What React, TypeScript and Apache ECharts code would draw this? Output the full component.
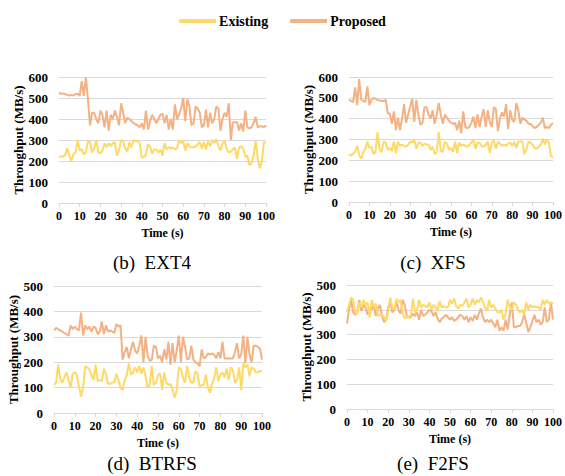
import React, { useEffect, useRef } from "react";
import * as echarts from "echarts";

const timeTicks = [0, 10, 20, 30, 40, 50, 60, 70, 80, 90, 100];

const ext4Existing = [220, 222, 222, 228, 262, 225, 200, 235, 240, 300, 250, 255, 232, 240, 295, 290, 240, 260, 300, 240, 238, 250, 285, 265, 285, 270, 285, 290, 225, 250, 300, 295, 260, 245, 290, 265, 300, 295, 295, 285, 215, 220, 230, 280, 270, 235, 255, 255, 240, 255, 225, 285, 255, 265, 260, 265, 255, 260, 300, 285, 295, 250, 285, 270, 265, 265, 270, 280, 290, 260, 290, 255, 295, 270, 300, 285, 305, 270, 250, 285, 295, 260, 240, 245, 255, 265, 210, 265, 270, 260, 220, 225, 180, 190, 225, 295, 215, 165, 200, 290, 285];
const ext4Proposed = [525, 520, 522, 518, 515, 512, 515, 512, 518, 520, 510, 580, 510, 600, 490, 370, 430, 430, 400, 380, 440, 420, 360, 440, 345, 420, 400, 440, 410, 370, 475, 430, 380, 405, 400, 390, 380, 375, 370, 360, 380, 350, 440, 350, 390, 420, 400, 380, 400, 420, 425, 380, 420, 350, 400, 350, 470, 400, 420, 450, 500, 390, 495, 460, 370, 380, 460, 450, 430, 360, 370, 445, 360, 430, 380, 400, 460, 450, 345, 400, 430, 410, 475, 300, 385, 385, 385, 345, 380, 340, 440, 360, 355, 360, 380, 410, 360, 365, 365, 360, 370];

const xfsExisting = [230, 222, 232, 240, 270, 225, 208, 240, 255, 290, 260, 265, 230, 240, 335, 250, 240, 290, 285, 250, 260, 245, 290, 235, 290, 270, 275, 270, 265, 275, 290, 285, 300, 255, 285, 285, 270, 280, 275, 275, 250, 265, 230, 240, 335, 245, 240, 290, 280, 250, 260, 240, 290, 235, 285, 270, 275, 270, 265, 275, 285, 300, 255, 285, 285, 270, 265, 275, 290, 235, 285, 295, 255, 290, 280, 270, 275, 270, 280, 285, 270, 290, 260, 290, 290, 290, 230, 255, 290, 285, 275, 260, 255, 265, 275, 305, 275, 300, 285, 220, 215];
const xfsProposed = [490, 485, 480, 550, 465, 590, 490, 485, 480, 555, 465, 490, 500, 495, 490, 488, 485, 485, 490, 425, 425, 375, 435, 345, 405, 345, 400, 470, 380, 420, 460, 495, 385, 490, 420, 370, 380, 455, 455, 420, 400, 440, 375, 420, 475, 420, 375, 420, 405, 390, 380, 375, 380, 345, 390, 330, 435, 360, 355, 360, 380, 410, 355, 420, 360, 410, 445, 360, 440, 385, 360, 455, 445, 340, 400, 430, 410, 470, 350, 440, 395, 385, 475, 440, 375, 405, 395, 390, 375, 375, 365, 355, 360, 370, 380, 405, 355, 360, 355, 370, 380];

const btrfsExisting = [110, 120, 190, 135, 120, 140, 160, 130, 100, 155, 160, 150, 105, 65, 100, 185, 180, 170, 150, 130, 190, 125, 130, 125, 175, 150, 115, 115, 120, 120, 155, 130, 100, 90, 130, 150, 195, 150, 160, 180, 160, 185, 155, 180, 145, 100, 110, 185, 110, 120, 150, 155, 90, 160, 120, 110, 115, 90, 60, 90, 180, 175, 140, 120, 185, 140, 120, 120, 165, 155, 105, 110, 110, 150, 100, 80, 115, 135, 180, 125, 150, 160, 140, 175, 130, 180, 170, 120, 130, 180, 90, 195, 180, 190, 145, 180, 175, 160, 160, 165, 165];
const btrfsProposed = [325, 335, 330, 325, 320, 315, 310, 305, 345, 330, 340, 330, 325, 395, 305, 345, 330, 340, 320, 340, 335, 310, 320, 360, 310, 345, 320, 325, 320, 315, 350, 340, 345, 210, 240, 260, 215, 250, 280, 245, 235, 265, 305, 200, 300, 225, 205, 210, 265, 260, 215, 225, 200, 250, 210, 280, 190, 275, 200, 245, 305, 200, 300, 260, 210, 215, 265, 210, 200, 195, 185, 250, 215, 220, 235, 230, 235, 230, 215, 240, 215, 280, 215, 215, 215, 215, 215, 240, 275, 215, 230, 305, 195, 300, 230, 200, 265, 265, 260, 255, 210];

const f2fsExisting = [390, 420, 450, 440, 390, 385, 430, 410, 440, 420, 430, 370, 440, 410, 425, 375, 380, 380, 370, 355, 390, 450, 410, 400, 445, 430, 440, 390, 365, 370, 370, 380, 445, 390, 400, 440, 410, 420, 415, 410, 430, 400, 420, 410, 395, 435, 410, 415, 410, 410, 440, 425, 445, 415, 405, 420, 415, 430, 445, 410, 420, 445, 420, 440, 430, 450, 430, 410, 395, 440, 410, 420, 405, 390, 390, 400, 360, 385, 440, 410, 400, 430, 420, 400, 390, 400, 380, 430, 400, 420, 410, 415, 410, 410, 400, 440, 420, 440, 425, 430, 425];
const f2fsProposed = [345, 400, 440, 390, 380, 390, 440, 395, 420, 410, 380, 410, 400, 420, 375, 405, 420, 375, 350, 360, 410, 435, 390, 400, 430, 400, 385, 440, 420, 375, 370, 370, 385, 375, 390, 360, 400, 375, 380, 390, 400, 395, 375, 390, 365, 350, 365, 370, 380, 370, 360, 370, 355, 360, 370, 380, 375, 360, 375, 350, 370, 355, 380, 360, 385, 405, 370, 350, 360, 350, 360, 345, 330, 360, 315, 330, 315, 360, 320, 380, 430, 330, 330, 335, 335, 350, 380, 350, 310, 330, 355, 380, 350, 360, 340, 350, 410, 350, 360, 430, 360];

const panels = [
  { caption: "(b)\u00a0\u00a0EXT4", existing: ext4Existing, proposed: ext4Proposed, max: 600 },
  { caption: "(c)\u00a0\u00a0XFS", existing: xfsExisting, proposed: xfsProposed, max: 600 },
  { caption: "(d)\u00a0\u00a0BTRFS", existing: btrfsExisting, proposed: btrfsProposed, max: 500 },
  { caption: "(e)\u00a0\u00a0F2FS", existing: f2fsExisting, proposed: f2fsProposed, max: 500 },
];

const grids = [
  { left: 59, top: 77, width: 207, height: 126 },
  { left: 349, top: 77, width: 208, height: 125 },
  { left: 54, top: 286, width: 208, height: 127 },
  { left: 347, top: 285, width: 206, height: 124 },
];
const captionPos = [
  { x: 147, y: 248 },
  { x: 428, y: 248 },
  { x: 147, y: 449 },
  { x: 428, y: 449 },
];

const FONT = "'Liberation Serif', 'Times New Roman', serif";
const EXIST_COLOR = "#FFD966";
const PROP_COLOR = "#F4B183";
const GRID_COLOR = "#D9D9D9";

export default function App() {
  const ref = useRef<HTMLDivElement>(null);
  useEffect(() => {
    if (!ref.current) return;
    const chart = echarts.init(ref.current, undefined, { renderer: "svg" });
    const xAxis = panels.map((_, i) => ({
      type: "value",
      gridIndex: i,
      min: timeTicks[0],
      max: timeTicks[timeTicks.length - 1],
      interval: timeTicks[1] - timeTicks[0],
      name: "Time (s)",
      nameLocation: "middle",
      nameGap: 24,
      nameTextStyle: { fontFamily: FONT, fontWeight: "bold", fontSize: 12, color: "#000" },
      axisLine: { show: true, lineStyle: { color: GRID_COLOR, width: 1 } },
      axisTick: { show: true, length: 4, lineStyle: { color: GRID_COLOR } },
      axisLabel: { fontFamily: FONT, fontWeight: "bold", fontSize: 12, color: "#000", margin: 7 },
      splitLine: { show: false },
    }));
    const yAxis = panels.map((p, i) => ({
      type: "value",
      gridIndex: i,
      min: 0,
      max: p.max,
      interval: 100,
      name: "Throughput (MB/s)",
      nameLocation: "middle",
      nameGap: 33,
      nameTextStyle: { fontFamily: FONT, fontWeight: "bold", fontSize: 13, color: "#000" },
      axisLine: { show: false },
      axisTick: { show: false },
      axisLabel: { fontFamily: FONT, fontWeight: "bold", fontSize: 13, color: "#000", margin: 11 },
      splitLine: { show: true, lineStyle: { color: GRID_COLOR, width: 1 } },
    }));
    const series: any[] = [];
    panels.forEach((p, i) => {
      series.push({
        name: "Existing",
        type: "line",
        xAxisIndex: i,
        yAxisIndex: i,
        data: p.existing.map((v, k) => [k, v]),
        showSymbol: false,
        lineStyle: { color: EXIST_COLOR, width: 2 },
        itemStyle: { color: EXIST_COLOR },
        z: 3,
      });
      series.push({
        name: "Proposed",
        type: "line",
        xAxisIndex: i,
        yAxisIndex: i,
        data: p.proposed.map((v, k) => [k, v]),
        showSymbol: false,
        lineStyle: { color: PROP_COLOR, width: 2 },
        itemStyle: { color: PROP_COLOR },
        z: 2,
      });
    });
    chart.setOption({
      animation: false,
      backgroundColor: "#fff",
      legend: {
        top: 9,
        left: "center",
        itemWidth: 37,
        itemHeight: 4,
        itemGap: 22,
        icon: "roundRect",
        data: ["Existing", "Proposed"],
        textStyle: { fontFamily: FONT, fontWeight: "bold", fontSize: 14, color: "#000", padding: [0, 0, 0, -2] },
      },
      title: panels.map((p, i) => ({
        text: p.caption,
        left: captionPos[i].x,
        top: captionPos[i].y,
        textAlign: "center",
        textStyle: { fontFamily: FONT, fontWeight: "normal", fontSize: 19, color: "#000" },
      })),
      grid: grids,
      xAxis,
      yAxis,
      series,
    });
    return () => chart.dispose();
  }, []);
  return <div ref={ref} style={{ position: "fixed", left: 0, top: 0, width: 565, height: 476 }} />;
}
